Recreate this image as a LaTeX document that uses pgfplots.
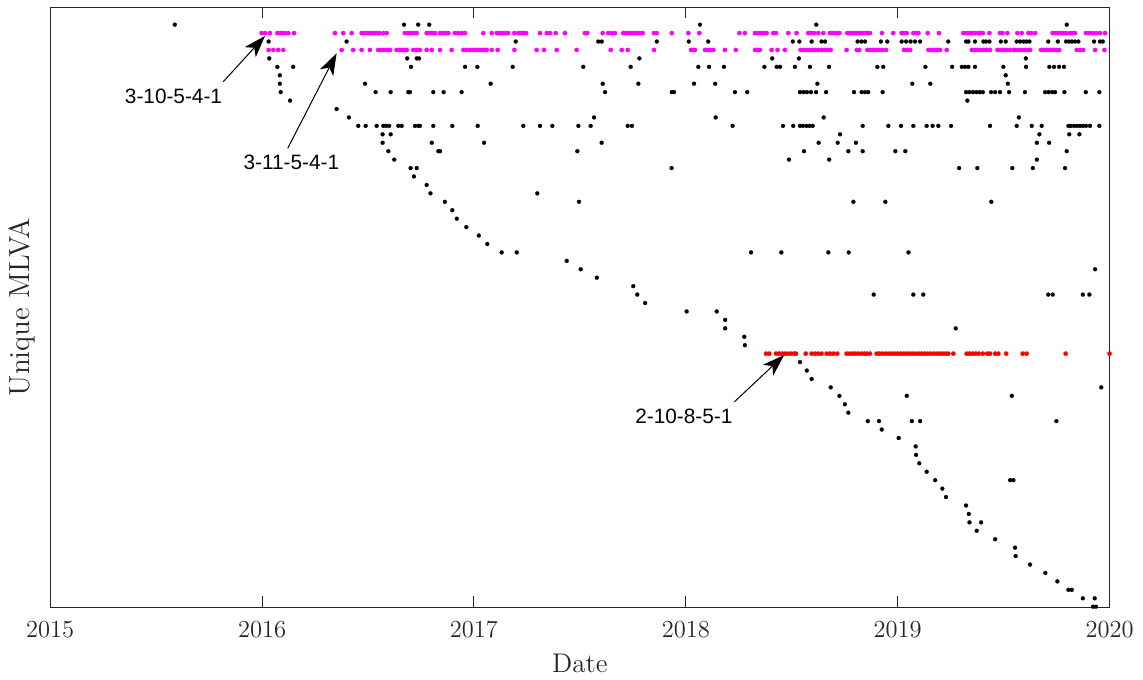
\documentclass[border=0pt]{standalone}
\usepackage{pgfplots}
\pgfplotsset{compat=1.18}
\usepackage{fontspec}
\newfontfamily\arialfont{Liberation Sans}
\usetikzlibrary{arrows.meta}
\definecolor{axgray}{RGB}{38,38,38}
\definecolor{mlmag}{RGB}{255,0,255}
\definecolor{mlred}{RGB}{255,0,0}
\begin{document}
\begin{tikzpicture}
\useasboundingbox (-25.1pt,-35.85pt) rectangle (546.4pt,303.65pt);
\begin{axis}[
  at={(0,0)}, anchor=south west,
  scale only axis, width=529.65pt, height=300pt,
  xmin=2015, xmax=2020, ymin=0.93, ymax=72.06,
  xtick={2015,2016,2017,2018,2019,2020},
  xticklabels={2015,2016,2017,2018,2019,2020},
  ytick=\empty,
  tick align=inside, major tick length=5.5pt,
  axis line style={axgray, line width=0.5pt},
  every tick/.style={axgray, line width=0.5pt},
  tick label style={text=axgray, font=\fontsize{12.25}{14}\selectfont},
  xticklabel style={yshift=-3.5pt},
  xlabel={Date}, ylabel={Unique MLVA},
  label style={text=axgray},
  xlabel style={font=\fontsize{13.5}{16}\selectfont, at={(axis description cs:0.5,0)}, anchor=center, yshift=-28pt},
  ylabel style={font=\fontsize{14.5}{17}\selectfont, at={(axis description cs:0,0.5)}, anchor=center, rotate=0, yshift=14.25pt},
  clip=false,
]
% black: other unique MLVA types
\addplot[only marks, mark=*, color=black, mark size=1pt, mark options={solid, line width=0.1pt}] coordinates {
(2015.588,70) (2016.670,70) (2016.737,70) (2016.789,70) (2018.067,70) (2018.616,70) (2019.798,70)
(2016.031,68) (2016.399,68) (2017.197,68) (2017.587,68) (2017.603,68) (2017.863,68) (2018.014,68) (2018.106,68) (2018.505,68) (2018.536,68) (2018.594,68) (2018.641,68) (2018.657,68) (2018.811,68) (2018.829,68) (2018.846,68) (2018.921,68) (2018.951,68) (2019.019,68) (2019.040,68) (2019.061,68) (2019.082,68) (2019.106,68) (2019.239,68) (2019.323,68) (2019.334,68) (2019.365,68) (2019.405,68) (2019.417,68) (2019.433,68) (2019.487,68) (2019.510,68) (2019.562,68) (2019.578,68) (2019.594,68) (2019.608,68) (2019.622,68) (2019.711,68) (2019.756,68) (2019.795,68) (2019.809,68) (2019.823,68) (2019.837,68) (2019.853,68) (2019.927,68) (2019.955,68) (2019.968,68)
(2016.034,66) (2016.685,66) (2016.730,66) (2016.741,66) (2017.781,66) (2018.408,66) (2018.534,66) (2019.605,66)
(2016.072,65) (2016.147,65) (2016.703,65) (2016.958,65) (2017.016,65) (2017.183,65) (2017.516,65) (2017.740,65) (2018.059,65) (2018.110,65) (2018.180,65) (2018.371,65) (2018.429,65) (2018.445,65) (2018.515,65) (2018.586,65) (2018.676,65) (2018.904,65) (2018.932,65) (2019.131,65) (2019.257,65) (2019.303,65) (2019.318,65) (2019.334,65) (2019.365,65) (2019.499,65) (2019.606,65) (2019.716,65) (2019.738,65) (2019.762,65) (2019.785,65)
(2016.084,64) (2019.510,64)
(2016.084,63) (2016.486,63) (2017.079,63) (2017.608,63) (2017.776,63) (2018.039,63) (2018.139,63) (2018.621,63) (2019.069,63) (2019.154,63) (2019.520,63)
(2016.088,62) (2016.536,62) (2016.607,62) (2016.690,62) (2016.698,62) (2016.808,62) (2016.857,62) (2016.942,62) (2017.619,62) (2017.934,62) (2017.944,62) (2018.232,62) (2018.290,62) (2018.539,62) (2018.556,62) (2018.572,62) (2018.591,62) (2018.615,62) (2018.662,62) (2018.794,62) (2018.830,62) (2018.846,62) (2018.861,62) (2018.929,62) (2019.323,62) (2019.339,62) (2019.356,62) (2019.372,62) (2019.387,62) (2019.402,62) (2019.441,62) (2019.460,62) (2019.483,62) (2019.526,62) (2019.601,62) (2019.696,62) (2019.712,62) (2019.729,62) (2019.743,62) (2019.787,62) (2019.888,62) (2019.952,62)
(2016.132,61) (2019.329,61)
(2016.352,60)
(2016.410,59) (2017.567,59) (2018.141,59) (2018.651,59) (2019.572,59)
(2016.454,58) (2016.489,58) (2016.541,58) (2016.572,58) (2016.585,58) (2016.600,58) (2016.643,58) (2016.659,58) (2016.722,58) (2016.737,58) (2016.745,58) (2016.808,58) (2016.898,58) (2017.018,58) (2017.233,58) (2017.312,58) (2017.370,58) (2017.493,58) (2017.551,58) (2017.726,58) (2017.746,58) (2018.221,58) (2018.459,58) (2018.507,58) (2018.539,58) (2018.553,58) (2018.570,58) (2018.584,58) (2018.599,58) (2018.835,58) (2018.956,58) (2019.016,58) (2019.074,58) (2019.137,58) (2019.165,58) (2019.192,58) (2019.252,58) (2019.436,58) (2019.562,58) (2019.633,58) (2019.680,58) (2019.806,58) (2019.818,58) (2019.833,58) (2019.847,58) (2019.861,58) (2019.875,58) (2019.889,58) (2019.908,58) (2019.952,58)
(2016.569,57) (2016.607,57) (2018.728,57) (2019.669,57) (2019.810,57) (2019.858,57)
(2016.569,56) (2016.801,56) (2017.048,56) (2017.603,56) (2018.627,56) (2018.717,56) (2018.803,56) (2019.657,56) (2019.715,56)
(2016.596,55) (2016.832,55) (2016.840,55) (2017.488,55) (2018.558,55) (2018.767,55) (2018.835,55) (2018.989,55) (2019.036,55) (2019.798,55)
(2016.624,54) (2018.487,54) (2018.677,54) (2019.657,54)
(2016.701,53) (2016.730,53) (2017.933,53) (2019.290,53) (2019.376,53) (2019.541,53) (2019.638,53) (2019.790,53)
(2016.717,52) (2016.777,51) (2016.795,50) (2017.299,50)
(2016.863,49) (2017.496,49) (2018.791,49) (2018.942,49) (2019.442,49)
(2016.898,48) (2016.919,47) (2016.964,46) (2017.023,45) (2017.063,44)
(2017.131,43) (2017.202,43) (2018.308,43) (2018.451,43) (2018.673,43) (2018.769,43) (2019.051,43)
(2017.438,42) (2017.504,41) (2019.932,41) (2017.580,40) (2017.752,39)
(2017.771,38) (2018.887,38) (2019.074,38) (2019.121,38) (2019.711,38) (2019.732,38) (2019.874,38) (2019.905,38)
(2017.808,37) (2018.004,36) (2018.146,36) (2018.186,35) (2018.186,34) (2019.274,34)
(2018.276,33) (2018.279,32) (2018.539,30) (2018.571,29) (2018.594,28)
(2018.684,27) (2019.961,27) (2018.725,26) (2019.043,26) (2019.539,26)
(2018.751,25) (2018.767,24)
(2018.859,23) (2018.912,23) (2019.067,23) (2019.106,23) (2019.749,23)
(2018.925,22) (2019.005,21) (2019.085,20) (2019.087,19) (2019.102,18) (2019.137,17)
(2019.177,16) (2019.531,16) (2019.546,16)
(2019.211,15) (2019.228,14) (2019.323,13) (2019.336,12) (2019.339,11) (2019.394,11)
(2019.373,10) (2019.460,9) (2019.554,8) (2019.557,7) (2019.625,6) (2019.697,5) (2019.754,4)
(2019.806,3) (2019.822,3) (2019.874,2) (2019.930,2) (2019.922,1) (2019.936,1)
};
% magenta: 3-11-5-4-1
\addplot[only marks, mark=*, color=mlmag, mark size=1.1pt, mark options={solid, line width=0.1pt}] coordinates {
(2016.031,67) (2016.053,67) (2016.076,67) (2016.100,67)
(2016.376,67) (2016.430,67) (2016.470,67) (2016.509,67) (2016.548,67) (2016.561,67) (2016.575,67) (2016.590,67) (2016.604,67) (2016.635,67) (2016.649,67) (2016.660,67) (2016.672,67) (2016.683,67) (2016.714,67) (2016.729,67) (2016.745,67) (2016.777,67) (2016.801,67) (2016.840,67) (2016.895,67) (2016.950,67) (2016.965,67) (2016.981,67) (2016.997,67) (2017.010,67) (2017.022,67) (2017.034,67) (2017.048,67) (2017.060,67) (2017.084,67) (2017.112,67) (2017.191,67) (2017.296,67) (2017.331,67) (2017.391,67) (2017.485,67) (2017.646,67) (2017.698,67) (2017.726,67) (2017.850,67)
(2018.025,67) (2018.034,67) (2018.043,67) (2018.091,67) (2018.105,67) (2018.117,67) (2018.130,67) (2018.185,67) (2018.236,67) (2018.327,67) (2018.338,67) (2018.350,67) (2018.405,67) (2018.433,67) (2018.468,67) (2018.542,67) (2018.556,67) (2018.570,67) (2018.584,67) (2018.598,67) (2018.612,67) (2018.626,67) (2018.641,67) (2018.655,67) (2018.669,67) (2018.684,67) (2018.759,67) (2018.807,67) (2018.819,67) (2018.857,67) (2018.869,67) (2018.884,67) (2018.898,67) (2018.912,67) (2018.926,67) (2018.945,67)
(2019.030,67) (2019.044,67) (2019.059,67) (2019.145,67) (2019.158,67) (2019.172,67) (2019.186,67) (2019.200,67) (2019.232,67) (2019.350,67) (2019.363,67) (2019.377,67) (2019.391,67) (2019.405,67) (2019.420,67) (2019.436,67) (2019.471,67) (2019.483,67) (2019.497,67) (2019.512,67) (2019.528,67) (2019.546,67) (2019.557,67) (2019.573,67) (2019.587,67) (2019.601,67) (2019.615,67) (2019.625,67) (2019.677,67) (2019.691,67) (2019.705,67) (2019.719,67) (2019.733,67) (2019.748,67) (2019.763,67) (2019.845,67) (2019.861,67) (2019.876,67) (2019.932,67) (2019.976,67)
};
% magenta: 3-10-5-4-1
\addplot[only marks, mark=*, color=mlmag, mark size=1.1pt, mark options={solid, line width=0.1pt}] coordinates {
(2015.998,69) (2016.014,69) (2016.037,69) (2016.072,69) (2016.084,69) (2016.095,69) (2016.108,69) (2016.124,69) (2016.151,69)
(2016.344,69) (2016.383,69) (2016.423,69) (2016.470,69) (2016.481,69) (2016.495,69) (2016.509,69) (2016.523,69) (2016.538,69) (2016.552,69) (2016.572,69) (2016.588,69) (2016.674,69) (2016.689,69) (2016.703,69) (2016.717,69) (2016.730,69) (2016.777,69) (2016.788,69) (2016.802,69) (2016.816,69) (2016.840,69) (2016.854,69) (2016.868,69) (2016.879,69) (2016.910,69) (2016.925,69) (2016.942,69) (2016.958,69)
(2017.044,69) (2017.084,69) (2017.108,69) (2017.121,69) (2017.135,69) (2017.149,69) (2017.162,69) (2017.191,69) (2017.210,69) (2017.222,69) (2017.234,69) (2017.246,69) (2017.312,69) (2017.344,69) (2017.359,69) (2017.386,69) (2017.430,69) (2017.524,69) (2017.535,69) (2017.608,69) (2017.634,69) (2017.650,69) (2017.666,69) (2017.705,69) (2017.718,69) (2017.732,69) (2017.746,69) (2017.760,69) (2017.775,69) (2017.784,69) (2017.797,69) (2017.850,69) (2017.863,69) (2017.934,69)
(2018.012,69) (2018.064,69) (2018.253,69) (2018.279,69) (2018.327,69) (2018.341,69) (2018.355,69) (2018.369,69) (2018.382,69) (2018.413,69) (2018.426,69) (2018.484,69) (2018.523,69) (2018.578,69) (2018.591,69) (2018.605,69) (2018.625,69) (2018.649,69) (2018.681,69) (2018.695,69) (2018.709,69) (2018.725,69) (2018.762,69) (2018.775,69) (2018.789,69) (2018.803,69) (2018.818,69) (2018.832,69) (2018.846,69) (2018.858,69) (2018.869,69) (2018.926,69) (2018.979,69)
(2019.019,69) (2019.030,69) (2019.043,69) (2019.074,69) (2019.087,69) (2019.098,69) (2019.142,69) (2019.195,69) (2019.310,69) (2019.323,69) (2019.337,69) (2019.351,69) (2019.365,69) (2019.380,69) (2019.389,69) (2019.402,69) (2019.433,69) (2019.483,69) (2019.495,69) (2019.518,69) (2019.565,69) (2019.586,69) (2019.617,69) (2019.630,69) (2019.649,69) (2019.732,69) (2019.743,69) (2019.757,69) (2019.771,69) (2019.783,69) (2019.795,69) (2019.814,69) (2019.826,69) (2019.837,69) (2019.889,69) (2019.903,69) (2019.918,69) (2019.936,69) (2019.955,69) (2019.979,69)
};
% red: 2-10-8-5-1
\addplot[only marks, mark=*, color=mlred, mark size=1.1pt, mark options={solid, line width=0.1pt}] coordinates {
(2018.379,31) (2018.394,31) (2018.426,31) (2018.440,31) (2018.454,31) (2018.468,31) (2018.482,31) (2018.497,31) (2018.511,31) (2018.520,31) (2018.566,31) (2018.594,31) (2018.610,31) (2018.625,31) (2018.641,31) (2018.665,31) (2018.681,31) (2018.697,31) (2018.715,31) (2018.759,31) (2018.773,31) (2018.787,31) (2018.801,31) (2018.814,31) (2018.830,31) (2018.843,31) (2018.855,31) (2018.869,31) (2018.901,31) (2018.914,31) (2018.928,31) (2018.943,31) (2018.957,31) (2018.971,31) (2018.985,31) (2019.000,31) (2019.014,31) (2019.028,31) (2019.042,31) (2019.056,31) (2019.070,31) (2019.084,31) (2019.099,31) (2019.113,31) (2019.127,31) (2019.141,31) (2019.155,31) (2019.169,31) (2019.184,31) (2019.198,31) (2019.212,31) (2019.226,31) (2019.239,31) (2019.263,31) (2019.326,31) (2019.339,31) (2019.354,31) (2019.368,31) (2019.382,31) (2019.402,31) (2019.423,31) (2019.436,31) (2019.460,31) (2019.475,31) (2019.512,31) (2019.590,31) (2019.609,31) (2019.793,31) (2020.000,31)
};
% annotations
\draw[line width=0.5pt, -{Stealth[length=11pt,width=7.5pt,inset=3pt,line width=0pt]}] (axis cs:2015.817,63.24) -- (axis cs:2016.014,68.66);
\node[font=\arialfont\fontsize{10.4}{12}\selectfont] at (axis cs:2015.582,61.54) {3-10-5-4-1};
\draw[line width=0.5pt, -{Stealth[length=11pt,width=7.5pt,inset=3pt,line width=0pt]}] (axis cs:2016.121,55.34) -- (axis cs:2016.352,66.61);
\node[font=\arialfont\fontsize{10.4}{12}\selectfont] at (axis cs:2016.138,53.63) {3-11-5-4-1};
\draw[line width=0.5pt, -{Stealth[length=11pt,width=7.5pt,inset=3pt,line width=0pt]}] (axis cs:2018.229,25.28) -- (axis cs:2018.464,30.82);
\node[font=\arialfont\fontsize{10.4}{12}\selectfont] at (axis cs:2017.991,23.58) {2-10-8-5-1};
\end{axis}
\end{tikzpicture}
\end{document}
